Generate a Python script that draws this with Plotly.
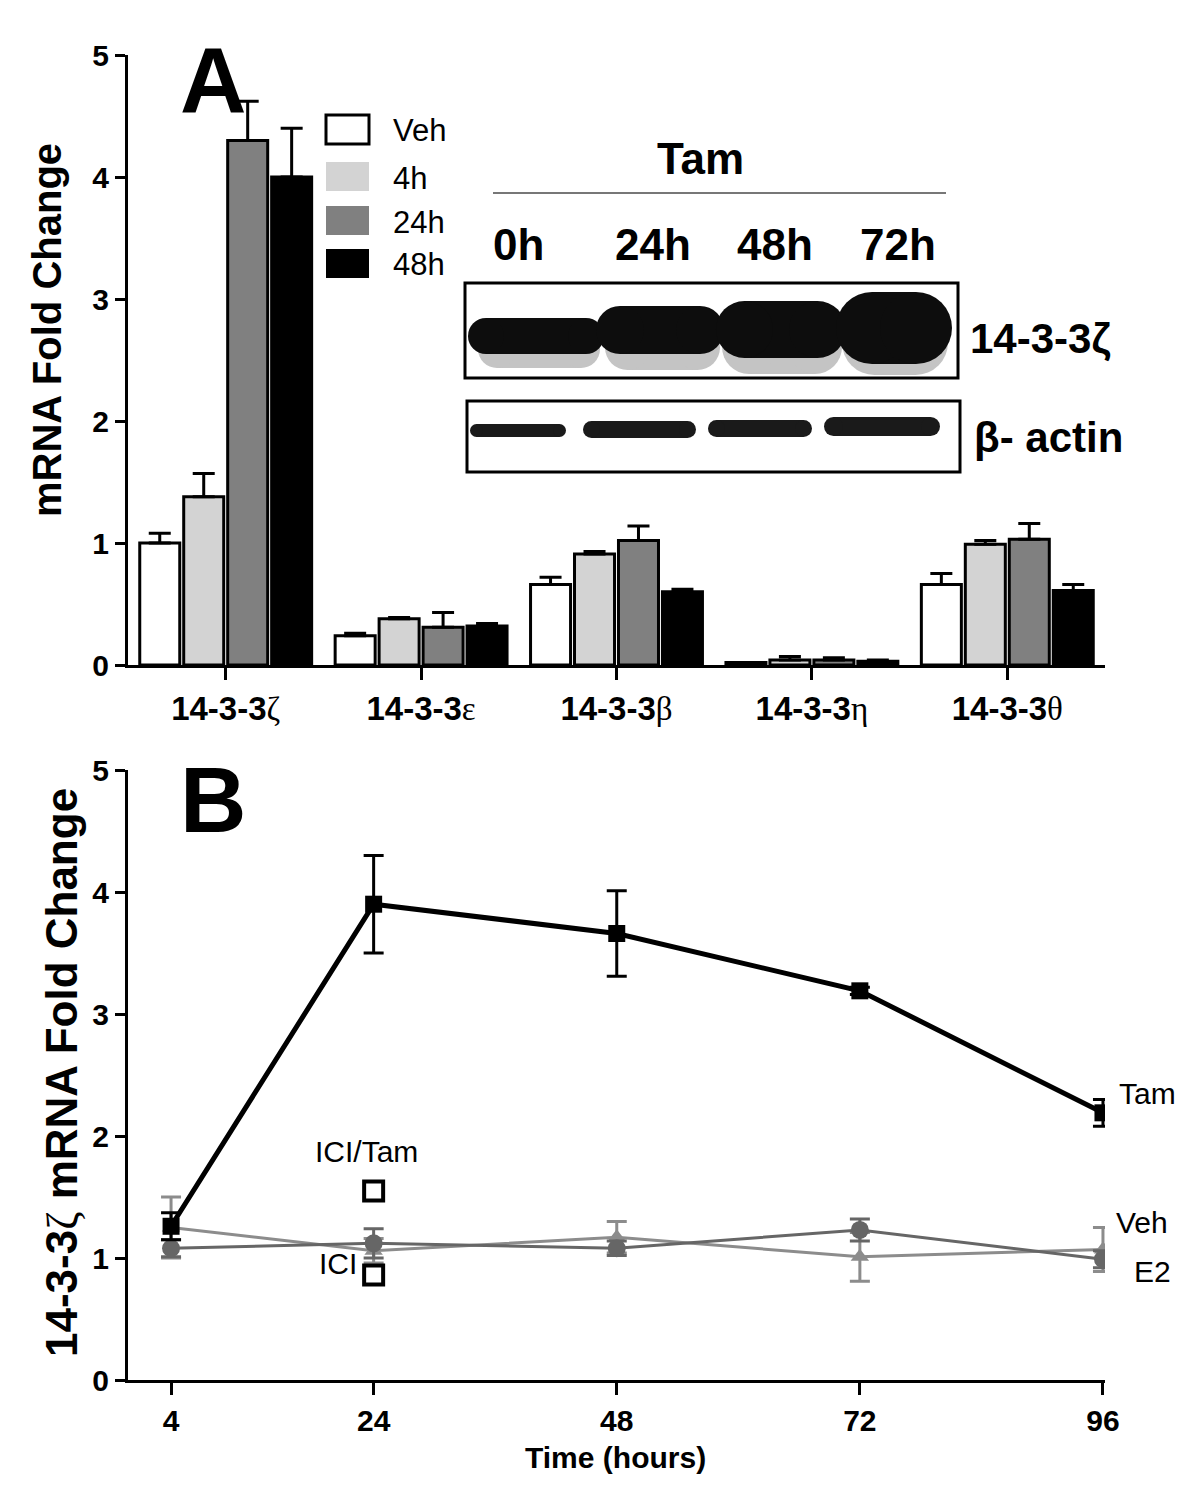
import plotly.graph_objects as go

# ---------------- Panel A data ----------------
isoforms = ["ζ", "ε", "β", "η", "θ"]
groups = ["Veh", "4h", "24h", "48h"]
bar_colors = ["#ffffff", "#d3d3d3", "#808080", "#000000"]
veh_vals = [1.00, 0.24, 0.66, 0.02, 0.66]
veh_err = [0.08, 0.02, 0.06, 0.00, 0.09]
h4_vals = [1.38, 0.38, 0.91, 0.04, 0.99]
h4_err = [0.19, 0.01, 0.02, 0.03, 0.03]
h24_vals = [4.30, 0.31, 1.02, 0.04, 1.03]
h24_err = [0.32, 0.12, 0.12, 0.02, 0.13]
h48_vals = [4.00, 0.32, 0.60, 0.03, 0.61]
h48_err = [0.40, 0.02, 0.02, 0.01, 0.05]
bar_vals = [veh_vals, h4_vals, h24_vals, h48_vals]
bar_errs = [veh_err, h4_err, h24_err, h48_err]
yticks_a = [0, 1, 2, 3, 4, 5]

# ---------------- Panel B data ----------------
hours = [4, 24, 48, 72, 96]
tam_vals = [1.26, 3.90, 3.66, 3.19, 2.19]
tam_err = [0.11, 0.40, 0.35, 0.03, 0.11]
veh_line = [1.25, 1.06, 1.17, 1.01, 1.07]
veh_line_err = [0.25, 0.10, 0.13, 0.20, 0.18]
e2_line = [1.08, 1.12, 1.08, 1.23, 0.99]
e2_line_err = [0.07, 0.12, 0.06, 0.09, 0.07]
ici_hours = [24]
ici_tam_vals = [1.55]
ici_tam_err = [0.06]
ici_vals = [0.86]
ici_err = [0.07]
xticks_b = [4, 24, 48, 72, 96]
yticks_b = [0, 1, 2, 3, 4, 5]

FONT = "Arial, Liberation Sans, Helvetica, sans-serif"
SERIF = "Times New Roman, Liberation Serif, serif"

W, H = 1200, 1487
OFF = 8  # page body margin
ML, MT = 128 - OFF, 55 - OFF
MR = W - (1105 - OFF)
MB = H - (1380 - OFF)
PW = W - ML - MR
PH = H - MT - MB


def px(x):
    return (x - OFF - ML) / PW


def py(y):
    return (H - MB - (y - OFF)) / PH


cat_labels = [
    "<b>14-3-3</b><span style='font-family:%s'>%s</span>" % (SERIF, g) for g in isoforms
]

fig = go.Figure()

for name, col, vals, errs in zip(groups, bar_colors, bar_vals, bar_errs):
    fig.add_trace(go.Bar(
        x=cat_labels, y=vals, name=name,
        marker=dict(color=col, line=dict(color="black", width=3)),
        error_y=dict(type="data", array=errs, arrayminus=[0] * len(errs),
                     color="black", thickness=3, width=11),
        xaxis="x", yaxis="y", showlegend=False,
    ))

# Panel B lines
fig.add_trace(go.Scatter(
    x=hours, y=veh_line, name="Veh", mode="lines+markers",
    line=dict(color="#8c8c8c", width=3),
    marker=dict(symbol="triangle-up", size=16, color="#8c8c8c"),
    error_y=dict(type="data", array=veh_line_err, color="#8c8c8c", thickness=3, width=10),
    xaxis="x2", yaxis="y2", showlegend=False,
))
fig.add_trace(go.Scatter(
    x=hours, y=e2_line, name="E2", mode="lines+markers",
    line=dict(color="#666666", width=3),
    marker=dict(symbol="circle", size=18, color="#666666"),
    error_y=dict(type="data", array=e2_line_err, color="#666666", thickness=3, width=10),
    xaxis="x2", yaxis="y2", showlegend=False,
))
fig.add_trace(go.Scatter(
    x=hours, y=tam_vals, name="Tam", mode="lines+markers",
    line=dict(color="black", width=5),
    marker=dict(symbol="square", size=17, color="black"),
    error_y=dict(type="data", array=tam_err, color="black", thickness=3, width=10),
    xaxis="x2", yaxis="y2", showlegend=False,
))
fig.add_trace(go.Scatter(
    x=ici_hours, y=ici_tam_vals, name="ICI/Tam", mode="markers",
    marker=dict(symbol="square", size=19, color="white", line=dict(width=4, color="black")),
    error_y=dict(type="data", array=ici_tam_err, color="black", thickness=4, width=10),
    xaxis="x2", yaxis="y2", showlegend=False,
))
fig.add_trace(go.Scatter(
    x=ici_hours, y=ici_vals, name="ICI", mode="markers",
    marker=dict(symbol="square", size=19, color="white", line=dict(width=4, color="black")),
    error_y=dict(type="data", array=ici_err, color="black", thickness=4, width=10),
    xaxis="x2", yaxis="y2", showlegend=False,
))

axis_common = dict(showgrid=False, zeroline=False, showline=True, linecolor="black",
                   linewidth=3, ticks="outside", tickwidth=3, tickcolor="black")
tickfont = dict(family=FONT, size=30, color="black")

fig.update_layout(
    width=W, height=H,
    margin=dict(l=ML, r=MR, t=MT, b=MB),
    paper_bgcolor="white", plot_bgcolor="white",
    barmode="group", bargap=0.1, bargroupgap=0.09,
    font=dict(family=FONT, color="black"),
    xaxis=dict(domain=[0, 1], anchor="y", ticklen=12, tickfont=dict(family=FONT, size=33, color="black"),
               **axis_common),
    yaxis=dict(domain=[py(665), py(55)], anchor="x", range=[0, 5],
               tickvals=yticks_a, ticktext=["<b>%d</b>" % v for v in yticks_a],
               ticklen=10, tickfont=tickfont, **axis_common),
    xaxis2=dict(domain=[0, 1], anchor="y2", range=[-0.25, 96.2],
                tickvals=xticks_b, ticktext=["<b>%d</b>" % v for v in xticks_b],
                ticklen=12, tickfont=tickfont, **axis_common),
    yaxis2=dict(domain=[0, py(770)], anchor="x2", range=[0, 5],
                tickvals=yticks_b, ticktext=["<b>%d</b>" % v for v in yticks_b],
                ticklen=10, tickfont=tickfont, **axis_common),
)

ann = []
shapes = []


def text(x, y, s, size, bold=False, anchor="center", angle=0, color="black", yanchor="middle"):
    ann.append(dict(x=px(x), y=py(y), xref="paper", yref="paper", text=("<b>%s</b>" % s) if bold else s,
                    showarrow=False, xanchor=anchor, yanchor=yanchor, textangle=angle,
                    font=dict(family=FONT, size=size, color=color)))


def pill(x0, x1, y0, y1, color):
    r = (y1 - y0) / 2.0
    r = min(r, (x1 - x0) / 2.0)
    shapes.append(dict(type="rect", xref="paper", yref="paper", x0=px(x0 + r), x1=px(x1 - r),
                       y0=py(y1), y1=py(y0), fillcolor=color, line=dict(width=0), layer="above"))
    for cx0 in (x0, x1 - 2 * r):
        shapes.append(dict(type="circle", xref="paper", yref="paper", x0=px(cx0), x1=px(cx0 + 2 * r),
                           y0=py(y1), y1=py(y0), fillcolor=color, line=dict(width=0), layer="above"))


# Axis titles
text(47, 330, "mRNA Fold Change", 40, bold=True, angle=-90)
ann.append(dict(x=px(62), y=py(1073), xref="paper", yref="paper", xanchor="center", yanchor="middle",
                text="<b>14-3-3</b><span style='font-family:%s'>ζ</span><b> mRNA Fold Change</b>" % SERIF,
                showarrow=False, textangle=-90, font=dict(family=FONT, size=44, color="black")))
text(615, 1457, "Time (hours)", 30, bold=True)

# Panel letters
text(213, 80, "A", 92, bold=True)
text(213, 800, "B", 92, bold=True)

# Legend (panel A)
leg_y = [130, 177, 221, 264]
for name, col, yy in zip(groups, bar_colors, leg_y):
    shapes.append(dict(type="rect", xref="paper", yref="paper",
                       x0=px(326), x1=px(369), y0=py(yy + 14), y1=py(yy - 15),
                       fillcolor=col, line=dict(color="black", width=3 if col == "#ffffff" else 0)))
    text(391, yy + 1, name, 31, anchor="left")

# Western blot inset
text(700, 158, "Tam", 44, bold=True)
shapes.append(dict(type="line", xref="paper", yref="paper", x0=px(493), x1=px(946),
                   y0=py(193), y1=py(193), line=dict(color="#777777", width=2)))
for lab, xx in zip(["0h", "24h", "48h", "72h"], [518, 653, 775, 898]):
    text(xx, 244, lab, 44, bold=True)

# top blot frame
shapes.append(dict(type="rect", xref="paper", yref="paper", x0=px(465), x1=px(958),
                   y0=py(378), y1=py(283), fillcolor="white", line=dict(color="black", width=3), layer="above"))
# top blot: faint smear below, then dark bands
smears = [(478, 600, 330, 368), (605, 720, 325, 370), (722, 842, 320, 374), (842, 948, 310, 375)]
for x0, x1, y0, y1 in smears:
    pill(x0, x1, y0, y1, "#c4c4c4")
top_lanes = [(468, 604, 318, 354), (596, 724, 306, 354), (716, 846, 301, 358), (836, 952, 292, 364)]
for x0, x1, y0, y1 in top_lanes:
    pill(x0, x1, y0, y1, "#0d0d0d")
text(1040, 339, "14-3-3ζ", 42, bold=True)

# bottom blot frame
shapes.append(dict(type="rect", xref="paper", yref="paper", x0=px(467), x1=px(960),
                   y0=py(472), y1=py(401), fillcolor="white", line=dict(color="black", width=3), layer="above"))
bot_lanes = [(470, 566, 424, 437), (583, 696, 421, 438), (708, 812, 420, 437), (824, 940, 417, 436)]
for x0, x1, y0, y1 in bot_lanes:
    pill(x0, x1, y0, y1, "#1a1a1a")
text(1048, 437, "β- actin", 42, bold=True)

# Panel B series labels
text(1117, 1093, "Tam", 30, anchor="left")
text(1114, 1222, "Veh", 30, anchor="left")
text(1132, 1271, "E2", 30, anchor="left")
text(366, 1151, "ICI/Tam", 30)
text(338, 1263, "ICI", 30)

fig.update_layout(annotations=ann, shapes=shapes)
fig.write_html("out.html")
